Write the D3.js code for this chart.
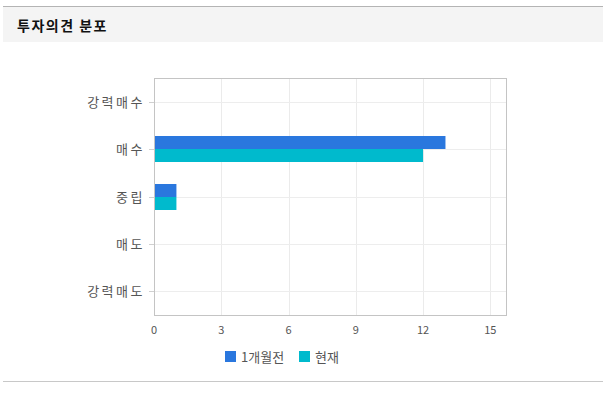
<!DOCTYPE html>
<html>
<head>
<meta charset="utf-8">
<script src="https://cdn.jsdelivr.net/npm/d3@7"></script>
<style>
  body { margin: 0; background: #fff; font-family: "Noto Sans CJK KR", "Noto Sans", sans-serif; }
</style>
</head>
<body>
<div id="chart"></div>
<script>
// 투자의견 분포
let categories = ["강력매수", "매수", "중립", "매도", "강력매도"];
let seriesNames = ["1개월전", "현재"];
let monthAgo = [0, 13, 1, 0, 0];
let current = [0, 12, 1, 0, 0];
let ticks = [0, 3, 6, 9, 12, 15];
let colors = ["#2a77de", "#00bacd"];

let svg = d3.select("#chart").append("svg")
    .attr("width", 616)
    .attr("height", 393);

// frame + header
svg.append("line")
    .attr("x1", 3).attr("x2", 603).attr("y1", 6.5).attr("y2", 6.5)
    .attr("stroke", "#b4b4b4");
svg.append("rect")
    .attr("x", 3).attr("y", 7).attr("width", 600).attr("height", 35)
    .attr("fill", "#f4f4f4");
svg.append("text")
    .attr("x", 17).attr("y", 31)
    .attr("font-size", 14).attr("font-weight", "bold").attr("fill", "#111")
    .attr("letter-spacing", 1.5)
    .text("투자의견 분포");
svg.append("line")
    .attr("x1", 3).attr("x2", 603).attr("y1", 381.5).attr("y2", 381.5)
    .attr("stroke", "#c8c8c8");

let plotLeft = 154, plotRight = 506, plotTop = 78, plotBottom = 315;

let x = d3.scaleLinear().domain([0, 15.7]).range([plotLeft, plotRight]);
let y = d3.scaleBand().domain(categories).range([plotTop, plotBottom]);

let g = svg.append("g");

// vertical grid
ticks.forEach(t => {
    g.append("line")
        .attr("x1", Math.round(x(t)) + 0.5).attr("x2", Math.round(x(t)) + 0.5)
        .attr("y1", plotTop).attr("y2", plotBottom)
        .attr("stroke", "#ebebeb");
});
// horizontal grid at category centers
categories.forEach(c => {
    let cy = Math.round(y(c) + y.bandwidth() / 2) + 0.5;
    g.append("line")
        .attr("x1", plotLeft).attr("x2", plotRight)
        .attr("y1", cy).attr("y2", cy)
        .attr("stroke", "#ededed");
    g.append("line")
        .attr("x1", plotLeft - 5).attr("x2", plotLeft)
        .attr("y1", cy).attr("y2", cy)
        .attr("stroke", "#d0d0d0");
    g.append("text")
        .attr("x", plotLeft - 9).attr("y", cy + 4.5)
        .attr("text-anchor", "end")
        .attr("font-size", 13).attr("fill", "#555")
        .attr("letter-spacing", 2.5)
        .text(c);
});

// bars
let inner = d3.scaleBand().domain([0, 1]).range([0, 26]);
let series = [monthAgo, current];
series.forEach((vals, si) => {
    g.selectAll(".bar" + si)
        .data(categories.map((c, i) => ({ c: c, v: vals[i] })).filter(d => d.v > 0))
        .enter().append("rect")
        .attr("x", x(0))
        .attr("y", d => Math.round(y(d.c) + y.bandwidth() / 2) - 13 + inner(si))
        .attr("width", d => x(d.v) - x(0))
        .attr("height", inner.bandwidth())
        .attr("fill", colors[si]);
});

// plot border
g.append("rect")
    .attr("x", plotLeft + 0.5).attr("y", plotTop + 0.5)
    .attr("width", plotRight - plotLeft).attr("height", plotBottom - plotTop)
    .attr("fill", "none").attr("stroke", "#c4c4c4");

// x tick labels
ticks.forEach(t => {
    g.append("text")
        .attr("x", x(t)).attr("y", 334)
        .attr("text-anchor", "middle")
        .attr("font-size", 11).attr("fill", "#555")
        .text(t);
});

// legend
let legend = svg.append("g").attr("transform", "translate(225,351)");
let lx = 0;
seriesNames.forEach((name, i) => {
    legend.append("rect")
        .attr("x", lx).attr("y", 0).attr("width", 11).attr("height", 11)
        .attr("fill", colors[i]);
    legend.append("text")
        .attr("x", lx + 16).attr("y", 10.5)
        .attr("font-size", 13).attr("fill", "#555")
        .text(name);
    lx += 74;
});
</script>
</body>
</html>
